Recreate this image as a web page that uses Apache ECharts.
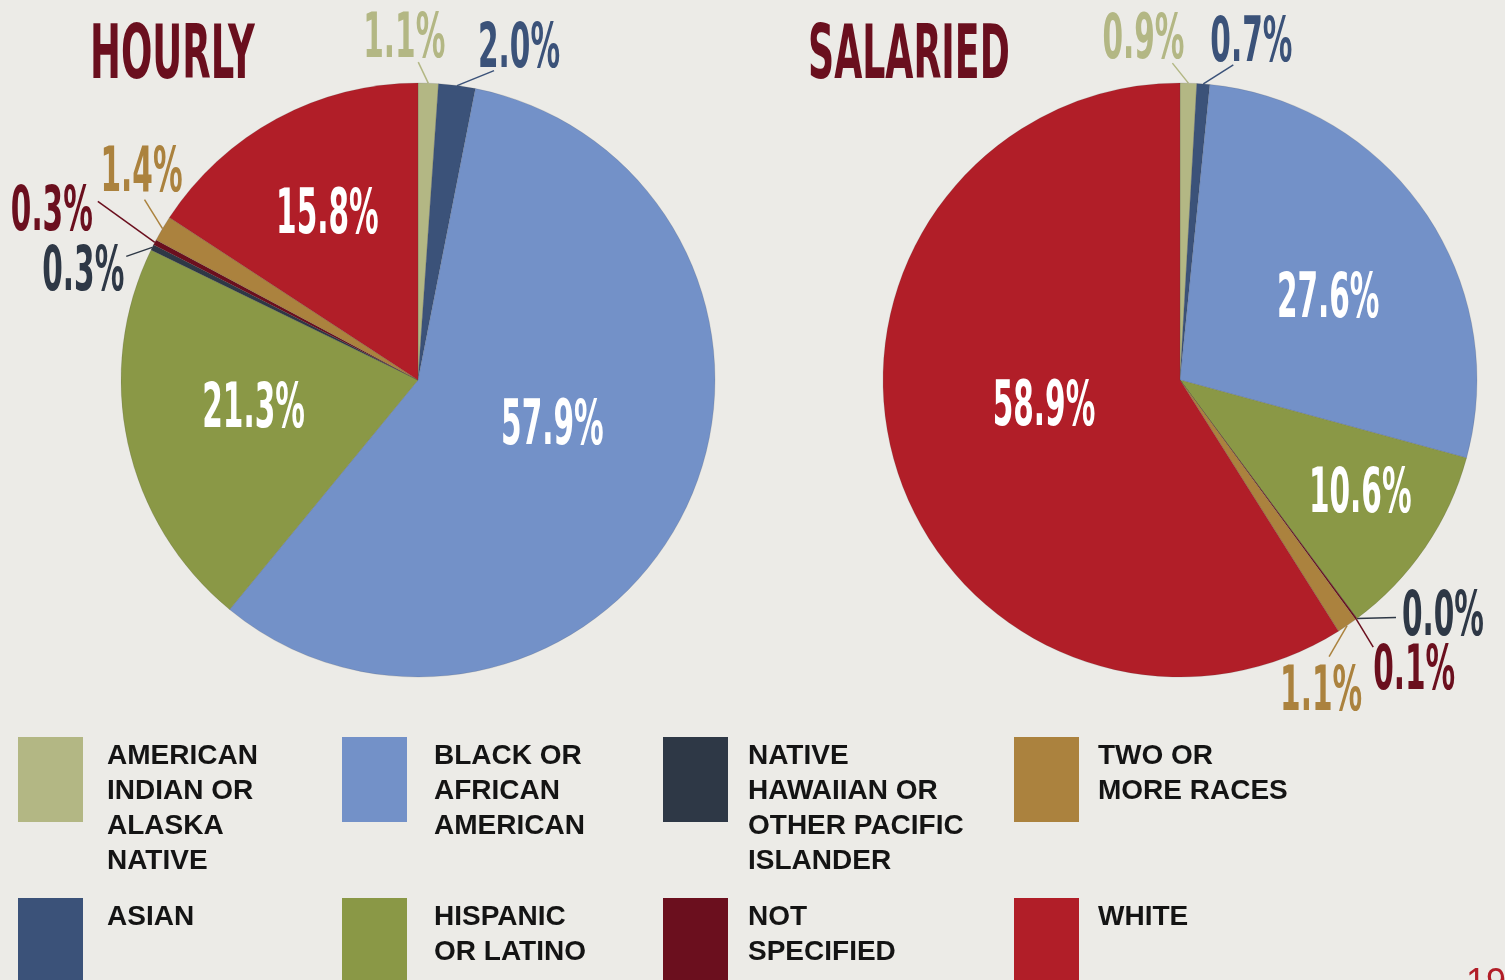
<!DOCTYPE html>
<html>
<head>
<meta charset="utf-8">
<title>Hourly vs Salaried</title>
<script src="https://cdn.jsdelivr.net/npm/echarts@6/dist/echarts.min.js"></script>
<style>
  html, body { margin: 0; padding: 0; background: #ecebe7; }
  #chart { width: 1505px; height: 980px; }
</style>
</head>
<body>
<div id="chart"></div>
<script>
var categories = [
  'American Indian or Alaska Native',
  'Asian',
  'Black or African American',
  'Hispanic or Latino',
  'Native Hawaiian or Other Pacific Islander',
  'Not Specified',
  'Two or More Races',
  'White'
];
var legendLabels = [
  'AMERICAN\nINDIAN OR\nALASKA\nNATIVE',
  'ASIAN',
  'BLACK OR\nAFRICAN\nAMERICAN',
  'HISPANIC\nOR LATINO',
  'NATIVE\nHAWAIIAN OR\nOTHER PACIFIC\nISLANDER',
  'NOT\nSPECIFIED',
  'TWO OR\nMORE RACES',
  'WHITE'
];
var hourlyValues = [1.1, 2.0, 57.9, 21.3, 0.3, 0.3, 1.4, 15.8];
var salariedValues = [0.9, 0.7, 27.6, 10.6, 0.0, 0.1, 1.1, 58.9];
var sliceColors = ['#b3b784', '#3b5279', '#7391c8', '#8a9846', '#2e3846', '#6b0f1e', '#ab823e', '#b11e28'];

// big slices keep their label inside
var insideSlices = [2, 3, 7];

// callouts for the thin slices: offset from the slice's outer edge
// [label x, label y, line end x, line end y]
var hourlyCallouts = {
  0: [-24, -48, -10, -21],
  1: [62, -41, 37, -15],
  4: [-69, 21, -26, 9],
  5: [-103, -34, -57, -41],
  6: [-21, -60, -18, -29]
};
var salariedCallouts = {
  0: [-45, -47, -16, -20],
  1: [48, -45, 30, -19],
  4: [86, -6, 39, -1],
  5: [58, 48, 17, 28],
  6: [-26, 62, -18, 31]
};
// small nudges for the inside labels (x gets squeezed with the text)
var hourlyInner = { 2: [-5, -17], 3: [-31, -1], 7: [-35, -30] };
var salariedInner = { 2: [44, 7], 3: [104, 30], 7: [18, -13] };

var labelFont = '"Liberation Sans Narrow", "DejaVu Sans Condensed", sans-serif';
// no narrow display face installed, so the percent labels get squeezed
var labelSqueeze = 0.53;
// digits sit low in the text box
var calloutDrop = 6;

function buildData(values) {
  return values.map(function (v, i) {
    var inside = insideSlices.indexOf(i) >= 0;
    return {
      name: categories[i],
      value: v,
      itemStyle: { color: sliceColors[i] },
      label: {
        position: inside ? 'inside' : 'outside',
        color: inside ? '#ffffff' : sliceColors[i]
      },
      labelLine: { show: !inside, lineStyle: { color: sliceColors[i], width: 1.5 } }
    };
  });
}

function placeLabels(callouts, inner) {
  return function (params) {
    var i = params.dataIndex;
    if (inner[i]) {
      return { dx: inner[i][0], dy: inner[i][1] };
    }
    var c = callouts[i];
    if (!c || !params.labelLinePoints) return {};
    var p0 = params.labelLinePoints[0];
    return {
      x: p0[0] + c[0],
      y: p0[1] + c[1] + calloutDrop,
      align: 'center',
      verticalAlign: 'middle',
      labelLinePoints: [
        [p0[0], p0[1]],
        [p0[0] + c[2] / 2, p0[1] + c[3] / 2],
        [p0[0] + c[2], p0[1] + c[3]]
      ]
    };
  };
}

function pieSeries(name, values, center, callouts, inner) {
  return {
    name: name,
    type: 'pie',
    center: center,
    radius: 297,
    startAngle: 90,
    clockwise: true,
    avoidLabelOverlap: false,
    animation: false,
    emphasis: { disabled: true },
    itemStyle: { borderColor: 'rgba(60,60,60,0.25)', borderWidth: 0.6 },
    label: {
      show: true,
      fontFamily: labelFont,
      fontWeight: 'bold',
      fontSize: 62,
      formatter: function (p) { return p.value.toFixed(1) + '%'; }
    },
    labelLine: { length: 15, length2: 0 },
    labelLayout: placeLabels(callouts, inner),
    data: buildData(values)
  };
}

// legend: 4 columns x 2 rows, built from the category list
var legendCols = [18, 342, 663, 1014];
var legendTextCols = [107, 434, 748, 1098];
var legendRows = [737, 898];
var legendGraphics = [];
categories.forEach(function (c, i) {
  var col = Math.floor(i / 2);
  var y = legendRows[i % 2];
  legendGraphics.push({
    type: 'rect',
    shape: { x: legendCols[col], y: y, width: 65, height: 85 },
    style: { fill: sliceColors[i] },
    silent: true
  });
  legendGraphics.push({
    type: 'text',
    x: legendTextCols[col],
    y: y + 2,
    style: {
      text: legendLabels[i],
      font: 'bold 28px "Liberation Sans", Arial, sans-serif',
      lineHeight: 35,
      fill: '#141414',
      verticalAlign: 'top'
    },
    silent: true
  });
});

var titleGraphics = [
  {
    type: 'text', x: 90, y: 22, scaleX: 0.555,
    style: { text: 'HOURLY', font: 'bold 74px ' + labelFont, fill: '#6a0f1e', verticalAlign: 'top' }
  },
  {
    type: 'text', x: 808, y: 22, scaleX: 0.545,
    style: { text: 'SALARIED', font: 'bold 74px ' + labelFont, fill: '#6a0f1e', verticalAlign: 'top' }
  },
  {
    type: 'text', x: 1466, y: 966,
    style: { text: '19', font: '36px "Liberation Sans", sans-serif', fill: '#b11e28', verticalAlign: 'top' }
  }
];

var chart = echarts.init(document.getElementById('chart'));
chart.setOption({
  backgroundColor: '#ecebe7',
  animation: false,
  graphic: titleGraphics.concat(legendGraphics),
  series: [
    pieSeries('Hourly', hourlyValues, [418, 380], hourlyCallouts, hourlyInner),
    pieSeries('Salaried', salariedValues, [1180, 380], salariedCallouts, salariedInner)
  ]
});

// squeeze the pie labels horizontally around their anchor
chart.getZr().storage.getRoots().forEach(function (root) {
  root.traverse(function (el) {
    var label = el.getTextContent && el.getTextContent();
    if (label && /%$/.test(label.style.text || '')) {
      label.originX = 0;
      label.originY = 0;
      label.scaleX = labelSqueeze;
      label.markRedraw();
    }
  });
});
chart.getZr().refresh();
</script>
</body>
</html>
